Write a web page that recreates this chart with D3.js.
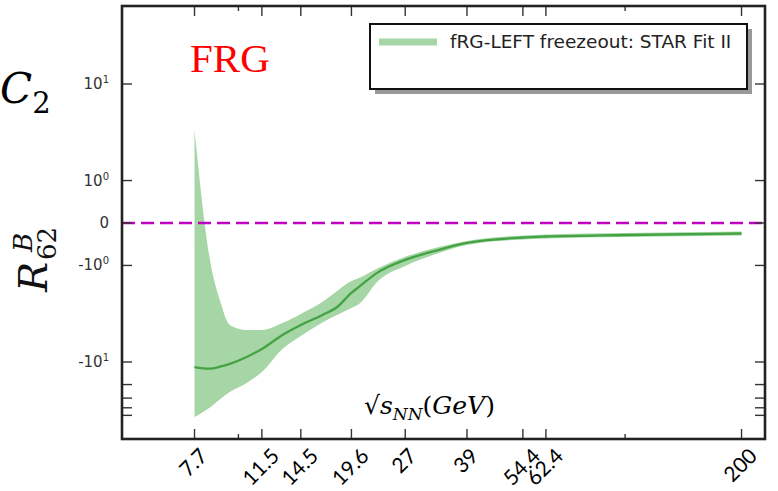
<!DOCTYPE html>
<html>
<head>
<meta charset="utf-8">
<script src="https://cdn.jsdelivr.net/npm/d3@7"></script>
<style>
  body { margin: 0; background: #fff; }
  svg { display: block; }
</style>
</head>
<body>
<svg id="chart" width="778" height="491"></svg>
<script>
// values (sqrt(s_NN) in GeV, R^B_62)
const energies = [7.7, 8.4, 9.0, 9.5, 10.5, 11.5, 13, 14.5, 16.5, 18, 19.6, 20.5, 23, 27, 33, 39, 54.4, 62.4, 100, 200];
const meanR62  = [-11.7, -12.3, -11.5, -10.6, -9.04, -7.69, -5.76, -4.65, -3.73, -3.11, -2.21, -1.89, -1.24, -0.82, -0.54, -0.376, -0.259, -0.239, -0.209, -0.180];
const upperR62 = [3.82, -0.68, -2.83, -4.65, -5.18, -5.18, -4.46, -3.65, -2.75, -2.1, -1.61, -1.48, -1.09, -0.73, -0.47, -0.33, -0.218, -0.199, -0.171, -0.143];
const lowerR62 = [-52.5, -40.3, -30.5, -25.0, -19.1, -13.6, -7.69, -5.88, -4.4, -3.73, -3.18, -2.90, -1.6, -1.02, -0.62, -0.42, -0.30, -0.28, -0.248, -0.218];

const xTicks = [7.7, 11.5, 14.5, 19.6, 27, 39, 54.4, 62.4, 200];
const xTickLabels = ["7.7", "11.5", "14.5", "19.6", "27", "39", "54.4", "62.4", "200"];
const xMinorTicks = [10, 100];
const yTicks = [10, 1, 0, -1, -10];
const yTickLabels = [["10", "1"], ["10", "0"], ["0", ""], ["-10", "0"], ["-10", "1"]];
const yMinorTicks = [-20, -30, -40, -50];
const legendLabel = "fRG-LEFT freezeout: STAR Fit II";

const svg = d3.select("#chart");
const pL = 122, pR = 765, pT = 6, pB = 439;

const x = d3.scaleLog().domain([5, 230]).range([pL, pR]);
// symlog axis, outer decades drawn a bit tighter than the inner ones
const y = d3.scaleSymlog().constant(0.85)
  .domain([-100, -10, 10, 100])
  .range([pB, 362, 84, pT]);

const data = energies.map((e, i) => ({e: e, m: meanR62[i], hi: upperR62[i], lo: lowerR62[i]}));

// band
svg.append("path")
  .datum(data)
  .attr("fill", "#a6d6a6")
  .attr("d", d3.area().curve(d3.curveMonotoneX)
    .x(d => x(d.e)).y0(d => y(d.lo)).y1(d => y(d.hi)));

// mean line
svg.append("path")
  .datum(data)
  .attr("fill", "none")
  .attr("stroke", "#43a343")
  .attr("stroke-width", 2.3)
  .attr("d", d3.line().curve(d3.curveMonotoneX)
    .x(d => x(d.e)).y(d => y(d.m)));

// zero line
svg.append("line")
  .attr("x1", pL).attr("x2", pR)
  .attr("y1", y(0)).attr("y2", y(0))
  .attr("stroke", "#c000c0")
  .attr("stroke-width", 2.5)
  .attr("stroke-dasharray", "13,6");

// ticks
const tk = svg.append("g").attr("stroke", "#333").attr("stroke-width", 1.4);
xTicks.forEach(v => {
  tk.append("line").attr("x1", x(v)).attr("x2", x(v)).attr("y1", pB).attr("y2", pB - 10);
  tk.append("line").attr("x1", x(v)).attr("x2", x(v)).attr("y1", pT).attr("y2", pT + 10);
});
xMinorTicks.forEach(v => {
  tk.append("line").attr("x1", x(v)).attr("x2", x(v)).attr("y1", pB).attr("y2", pB - 5);
  tk.append("line").attr("x1", x(v)).attr("x2", x(v)).attr("y1", pT).attr("y2", pT + 5);
});
yTicks.concat(yMinorTicks).forEach(v => {
  tk.append("line").attr("x1", pL).attr("x2", pL + 10).attr("y1", y(v)).attr("y2", y(v));
  tk.append("line").attr("x1", pR).attr("x2", pR - 10).attr("y1", y(v)).attr("y2", y(v));
});

// frame
svg.append("rect")
  .attr("x", pL).attr("y", pT)
  .attr("width", pR - pL).attr("height", pB - pT)
  .attr("fill", "none").attr("stroke", "#222").attr("stroke-width", 2.6);

// y tick labels
yTicks.forEach((v, i) => {
  const t = svg.append("text")
    .attr("x", 109).attr("y", y(v) + 5)
    .attr("text-anchor", "end")
    .attr("font-family", "DejaVu Sans")
    .attr("font-size", 15)
    .attr("fill", "#333")
    .text(yTickLabels[i][0]);
  if (yTickLabels[i][1]) {
    t.append("tspan").attr("dy", -6).attr("font-size", 10).text(yTickLabels[i][1]);
  }
});

// x tick labels, rotated, centred on the tick, top at a fixed line
xTicks.forEach((v, i) => {
  const t = svg.append("text")
    .attr("text-anchor", "middle")
    .attr("dominant-baseline", "central")
    .attr("font-family", "Lato")
    .attr("font-size", 21)
    .attr("fill", "#000")
    .text(xTickLabels[i]);
  const L = t.node().getComputedTextLength();
  const yc = 446 + (L + 15) * 0.3536;
  t.attr("transform", `translate(${x(v) - 2},${yc}) rotate(-45)`);
});

// x axis title
const xt = svg.append("text")
  .attr("x", 364).attr("y", 414)
  .attr("font-family", "DejaVu Serif")
  .attr("font-size", 25)
  .attr("fill", "#000");
xt.append("tspan").text("√");
xt.append("tspan").attr("font-style", "italic").text("s");
xt.append("tspan").attr("font-style", "italic").attr("font-size", 17).attr("dy", 6).text("NN");
xt.append("tspan").attr("dy", -6).text("(");
xt.append("tspan").attr("font-style", "italic").text("GeV");
xt.append("tspan").text(")");

// y axis title R^B_62
const yl = svg.append("g").attr("transform", "translate(47,292) rotate(-90)")
  .attr("font-family", "DejaVu Serif").attr("fill", "#111");
yl.append("text").attr("x", 0).attr("y", 0).attr("font-size", 40).attr("font-style", "italic").text("R");
yl.append("text").attr("x", 40).attr("y", -15).attr("font-size", 26).attr("font-style", "italic").text("B");
yl.append("text").attr("x", 32).attr("y", 9).attr("font-size", 26).text("62");

// C2
const c2 = svg.append("text")
  .attr("x", 0).attr("y", 103)
  .attr("font-family", "DejaVu Serif")
  .attr("font-size", 42)
  .attr("fill", "#000");
c2.append("tspan").attr("font-style", "italic").text("C");
c2.append("tspan").attr("font-size", 29).attr("dy", 10).text("2");

// FRG
svg.append("text")
  .attr("x", 190).attr("y", 72)
  .attr("font-family", "Liberation Serif")
  .attr("font-size", 41)
  .attr("fill", "#ff0000")
  .text("FRG");

// legend
const lg = svg.append("g");
lg.append("rect").attr("x", 375).attr("y", 29).attr("width", 377).attr("height", 65).attr("fill", "#999");
lg.append("rect").attr("x", 370).attr("y", 24).attr("width", 377).attr("height", 65)
  .attr("fill", "#fff").attr("stroke", "#111").attr("stroke-width", 2);
lg.append("rect").attr("x", 379).attr("y", 38.5).attr("width", 58).attr("height", 7).attr("fill", "#a6d6a6");
lg.append("text").attr("x", 450).attr("y", 48)
  .attr("font-family", "DejaVu Sans").attr("font-size", 18.5).attr("fill", "#222")
  .text(legendLabel);
</script>
</body>
</html>
